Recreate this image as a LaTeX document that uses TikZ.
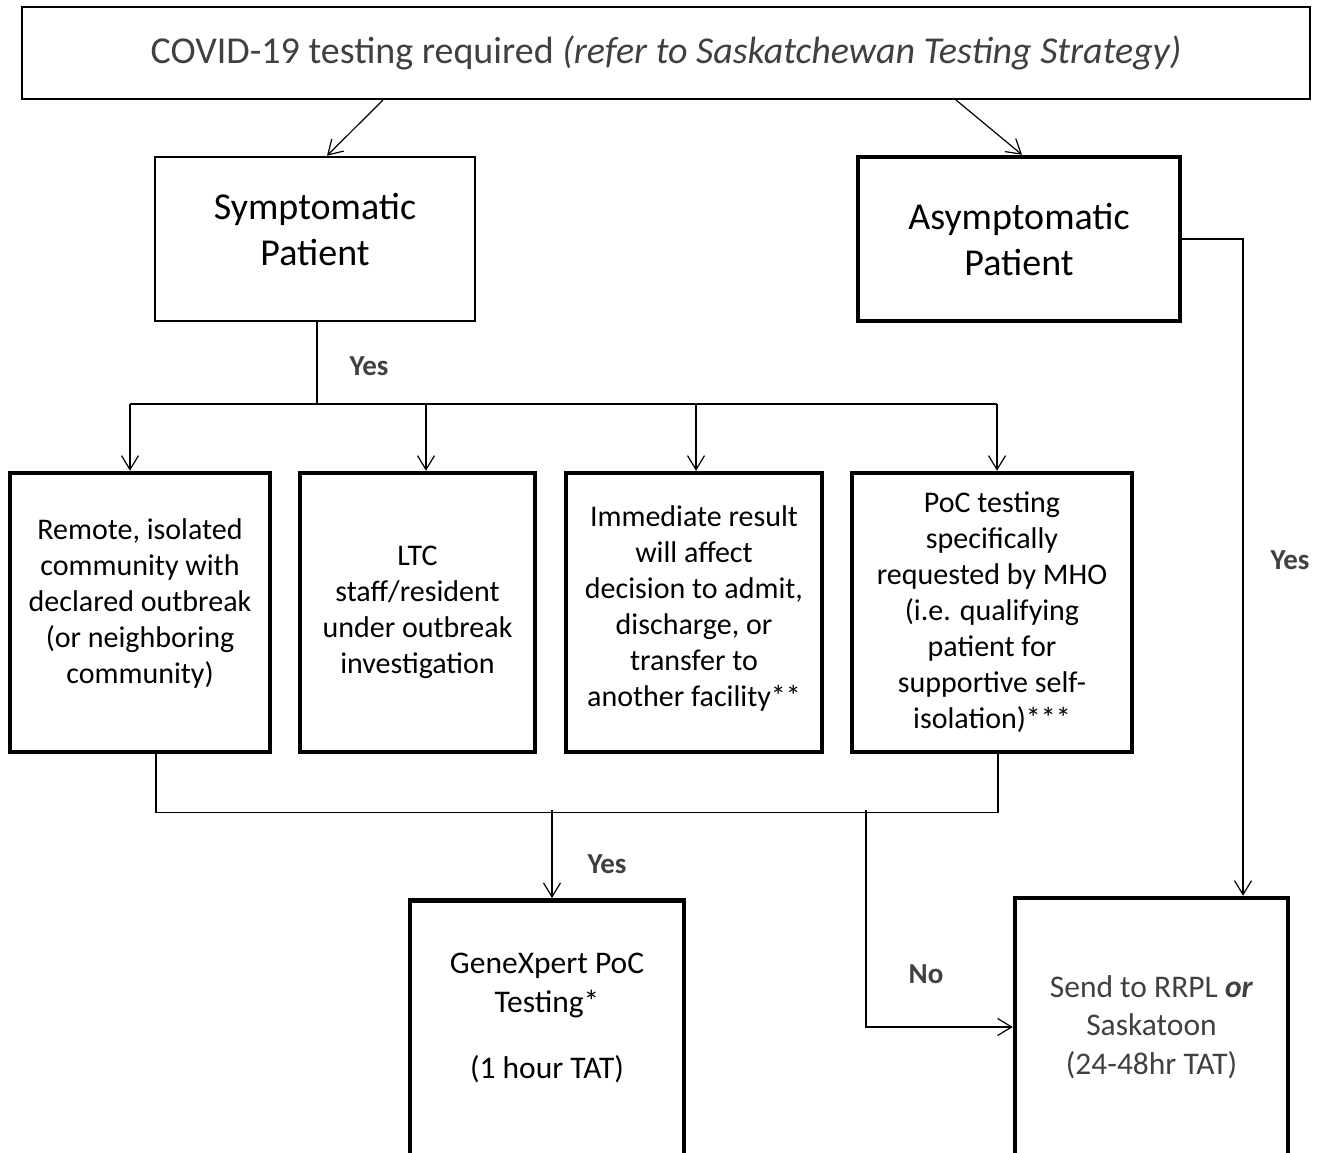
\documentclass[tikz,border=0pt]{standalone}
\usepackage{fontspec}
\setmainfont{Carlito}
\usetikzlibrary{arrows.meta}
\definecolor{txtgray}{HTML}{404040}
\begin{document}
\begin{tikzpicture}[x=1pt,y=-1pt,
  box/.style={draw,line width=2pt,inner sep=0pt},
  thickbox/.style={draw,line width=4.5pt,inner sep=0pt},
  big/.style={font=\fontsize{38}{46}\selectfont,align=center},
  small/.style={font=\fontsize{30}{36}\selectfont,align=center},
  mid/.style={font=\fontsize{31.5}{38.5}\selectfont,align=center},
  ans/.style={font=\fontsize{29}{34}\selectfont\bfseries,text=txtgray},
  line/.style={line width=1.2pt},
  link/.style={line width=1.2pt,-{Straight Barb[length=14pt,width=17pt,line width=1.2pt]}}]
\useasboundingbox (0,0) rectangle (1320,1152);
\clip (0,0) rectangle (1320,1152);

\node[box,big,text=txtgray,minimum width=1288,minimum height=92] (req) at (666,53)
  {COVID-19 testing required \textit{(refer to Saskatchewan Testing Strategy)}};
\node[box,big,line width=2.5pt,minimum width=320,minimum height=164] (sym) at (315,239)
  {Symptomatic\\Patient\\[-26pt]};
\node[thickbox,big,minimum width=322,minimum height=164] (asym) at (1019,239)
  {Asymptomatic\\Patient};

\node[thickbox,small,minimum width=260,minimum height=279] (b1) at (140,612.5)
  {Remote, isolated\\community with\\declared outbreak\\(or neighboring\\community)\\[-14pt]};
\node[thickbox,small,minimum width=235,minimum height=279] (b2) at (417.5,612.5)
  {LTC\\staff/resident\\under outbreak\\investigation};
\node[thickbox,small,minimum width=256,minimum height=279] (b3) at (694,612.5)
  {Immediate result\\will affect\\decision to admit,\\discharge, or\\transfer to\\another facility**\\[-24pt]};
\node[thickbox,small,minimum width=280,minimum height=279] (b4) at (992,612.5)
  {PoC testing\\specifically\\requested by MHO\\(i.e. qualifying\\patient for\\supportive self-\\isolation)***};

\node[thickbox,minimum width=274,minimum height=290,anchor=north] (gx) at (547,898) {};
\node[mid] (gxtxt) at (547,1018) {GeneXpert PoC\\Testing*\\[28pt](1 hour TAT)};
\node[thickbox,mid,text=txtgray,minimum width=273,minimum height=258] (rrpl) at (1151.5,1027)
  {Send to RRPL \textbf{\textit{or}}\\Saskatoon\\(24-48hr TAT)};

% top split
\draw[link] ([xshift=-283pt]req.south) -- ([xshift=12pt]sym.north);
\draw[link] ([xshift=290pt]req.south) -- ([xshift=3pt]asym.north);

% symptomatic branches
\coordinate (split) at (317,404);
\draw[line] ([xshift=2pt]sym.south) -- (split);
\draw[line] (130,404) -- (997,404);
\foreach \xp/\bx in {130/b1,426/b2,696/b3,997/b4}
  \draw[link] (\xp,404) -- (\xp,404 |- \bx.north);
\node[ans] (yes1) at (369,366) {Yes};

% back together
\draw[line] ([xshift=16pt]b1.south) -- ++(0,58) -| ([xshift=6pt]b4.south);
\coordinate (join) at (552,810);
\draw[link] (join) -- (join |- gx.north);
\node[ans] (yes2) at (607,864) {Yes};
\coordinate (nojoin) at (866,810);
\draw[link] (nojoin) |- (rrpl.west);
\node[ans] (no) at (926,974) {No};

% asymptomatic
\draw[link] (asym.east) -| ([xshift=91.5pt]rrpl.north);
\node[ans] (yes3) at (1290,560) {Yes};
\end{tikzpicture}
\end{document}
